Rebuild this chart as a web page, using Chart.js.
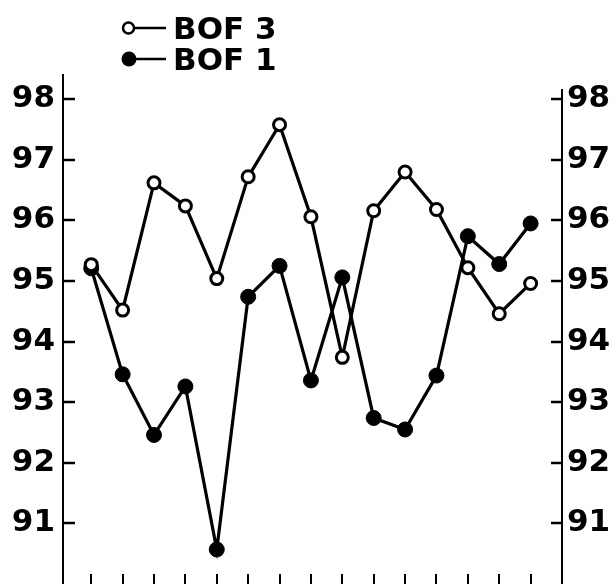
<!DOCTYPE html>
<html>
<head>
<meta charset="utf-8">
<script src="https://cdn.jsdelivr.net/npm/chart.js@4/dist/chart.umd.min.js"></script>
<style>
  html, body { margin: 0; padding: 0; background: #fff; }
  #wrap { width: 616px; height: 584px; }
</style>
</head>
<body>
<div id="wrap"><canvas id="c" width="616" height="584"></canvas></div>
<script>
// Heat sequence (x positions are the heat numbers; no labels are printed on the x axis)
const heats = [1, 2, 3, 4, 5, 6, 7, 8, 9, 10, 11, 12, 13, 14, 15];

// Series values
const bof3 = [95.27, 94.52, 96.62, 96.24, 95.04, 96.72, 97.58, 96.06, 93.74, 96.16, 96.80, 96.18, 95.22, 94.46, 94.96];
const bof1 = [95.21, 93.46, 92.46, 93.26, 90.57, 94.74, 95.25, 93.36, 95.06, 92.74, 92.55, 93.44, 95.74, 95.28, 95.95];

// Tick labels on both vertical axes
const yTicks = [91, 92, 93, 94, 95, 96, 97, 98];

const seriesNames = ['BOF 3', 'BOF 1'];

const ink = '#000';
const tickFont = { family: "'DejaVu Sans', 'Liberation Sans', sans-serif", weight: 'bold', size: 31 };
const keyFont = "bold 31px 'DejaVu Sans', 'Liberation Sans', sans-serif";
const rightAxisTop = 98.17;   // right axis line starts a little above the 98 tick

const toPoints = vals => vals.map((v, i) => ({ x: heats[i], y: v }));

function seg(ctx, x1, y1, x2, y2) {
  ctx.beginPath();
  ctx.moveTo(x1, y1);
  ctx.lineTo(x2, y2);
  ctx.stroke();
}

// Inward tick marks on all three axes, plus the shorter right-hand axis line
const axisMarks = {
  id: 'axisMarks',
  afterDraw(chart) {
    const { ctx, chartArea: a, scales } = chart;
    const { x, y, y2 } = scales;
    ctx.save();
    ctx.strokeStyle = ink;
    ctx.lineCap = 'butt';
    ctx.lineWidth = 2.5;
    y.ticks.forEach(t => {
      const py = Math.round(y.getPixelForValue(t.value));
      seg(ctx, a.left, py, a.left + 12, py);
    });
    y2.ticks.forEach(t => {
      const py = Math.round(y2.getPixelForValue(t.value));
      seg(ctx, a.right - 11, py, a.right, py);
    });
    ctx.lineWidth = 2;
    seg(ctx, a.right, y2.getPixelForValue(rightAxisTop), a.right, a.bottom);
    heats.forEach(h => {
      const px = Math.round(x.getPixelForValue(h));
      seg(ctx, px, a.bottom, px, a.bottom - 10);
    });
    ctx.restore();
  }
};

// Stacked key in the top-left: marker, short line, series name
const seriesKey = {
  id: 'seriesKey',
  afterDraw(chart) {
    const ctx = chart.ctx;
    ctx.save();
    chart.data.datasets.forEach((ds, i) => {
      const cy = 28 + i * 31;
      ctx.strokeStyle = ink;
      ctx.lineWidth = 2.5;
      seg(ctx, 132, cy, 166, cy);
      ctx.beginPath();
      if (ds.pointBackgroundColor === ink) {
        ctx.arc(129, cy, 7.5, 0, Math.PI * 2);
        ctx.fillStyle = ink;
        ctx.fill();
      } else {
        ctx.arc(128.5, cy, 5.5, 0, Math.PI * 2);
        ctx.fillStyle = '#fff';
        ctx.fill();
        ctx.lineWidth = 2.5;
        ctx.stroke();
      }
      ctx.fillStyle = ink;
      ctx.font = keyFont;
      ctx.textBaseline = 'alphabetic';
      ctx.textAlign = 'left';
      ctx.fillText(ds.label, 173, cy + 10.5);
    });
    ctx.restore();
  }
};

const useTicks = scale => { scale.ticks = yTicks.map(v => ({ value: v })); };

new Chart(document.getElementById('c'), {
  type: 'line',
  data: {
    datasets: [
      {
        label: seriesNames[0],
        data: toPoints(bof3),
        borderColor: ink,
        borderWidth: 3.2,
        pointRadius: 6,
        pointBorderWidth: 3,
        pointBackgroundColor: '#fff',
        pointBorderColor: ink,
        tension: 0,
        clip: false
      },
      {
        label: seriesNames[1],
        data: toPoints(bof1),
        borderColor: ink,
        borderWidth: 3.2,
        pointRadius: 7.5,
        pointBorderWidth: 1,
        pointBackgroundColor: ink,
        pointBorderColor: ink,
        tension: 0,
        clip: false
      }
    ]
  },
  options: {
    responsive: false,
    animation: false,
    events: [],
    devicePixelRatio: 1,
    layout: { autoPadding: false, padding: { top: 75, left: 0, right: 0, bottom: 0 } },
    plugins: {
      legend: { display: false },
      tooltip: { enabled: false }
    },
    scales: {
      x: { type: 'linear', min: 0.1, max: 16, display: false },
      y: {
        type: 'linear', axis: 'y', position: 'left',
        min: 90, max: 98.4,
        afterBuildTicks: useTicks,
        afterFit(s) { s.width = 63; s.paddingTop = 0; s.paddingBottom = 0; },
        grid: { display: false, drawTicks: false },
        border: { display: true, color: ink, width: 2 },
        ticks: { color: ink, font: tickFont, padding: 8 }
      },
      y2: {
        type: 'linear', axis: 'y', position: 'right',
        min: 90, max: 98.4,
        afterBuildTicks: useTicks,
        afterFit(s) { s.width = 54; s.paddingTop = 0; s.paddingBottom = 0; },
        grid: { display: false, drawTicks: false },
        border: { display: false },
        ticks: { color: ink, font: tickFont, padding: 5 }
      }
    }
  },
  plugins: [axisMarks, seriesKey]
});
</script>
</body>
</html>
